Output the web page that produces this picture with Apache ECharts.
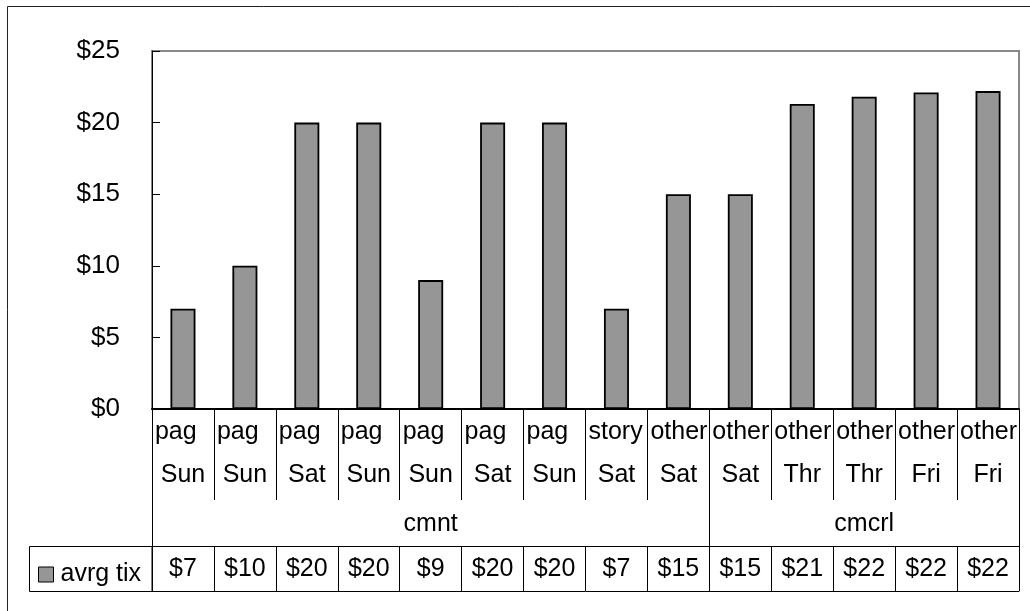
<!DOCTYPE html>
<html>
<head>
<meta charset="utf-8">
<script src="https://cdn.jsdelivr.net/npm/echarts@6/dist/echarts.min.js"></script>
<style>
html,body{margin:0;padding:0;background:#fff;}
#chart{width:1030px;height:611px;}
</style>
</head>
<body>
<div id="chart"></div>
<script>
// ---- data ----
const kinds = ['pag','pag','pag','pag','pag','pag','pag','story','other','other','other','other','other','other'];
const days = ['Sun','Sun','Sat','Sun','Sun','Sat','Sun','Sat','Sat','Sat','Thr','Thr','Fri','Fri'];
const groups = ['cmnt','cmnt','cmnt','cmnt','cmnt','cmnt','cmnt','cmnt','cmnt','cmcrl','cmcrl','cmcrl','cmcrl','cmcrl'];
const avrgTix = [7,10,20,20,9,20,20,7,15,15,21.3,21.8,22.1,22.2];
const seriesName = 'avrg tix';
const yTicks = [0,5,10,15,20,25];

// ---- derived ----
const idx = kinds.map((k,i)=>String(i));
const groupStarts = new Set();
const groupMids = {};
(function(){
  let s = 0;
  for (let i = 1; i <= groups.length; i++) {
    if (i === groups.length || groups[i] !== groups[s]) {
      groupStarts.add(s);
      groupMids[Math.floor((s + i - 1) / 2)] = groups[s];
      s = i;
    }
  }
})();

const FONT = '"Liberation Sans", Arial, sans-serif';
const chart = echarts.init(document.getElementById('chart'), null, {renderer:'canvas'});

const baseCat = {
  type:'category', data: idx, position:'bottom', gridIndex:0,
  axisLine:{show:false}, axisTick:{show:false}, axisLabel:{show:false}, splitLine:{show:false}
};

chart.setOption({
  animation:false,
  backgroundColor:'#fff',
  textStyle:{fontFamily:FONT, color:'#000'},
  grid:{left:152, right:11, top:51, bottom:202, show:true, borderColor:'#888', borderWidth:2, backgroundColor:'transparent'},
  legend:{
    data:[seriesName], left:33, top:557, itemWidth:15, itemHeight:15, icon:'rect',
    textStyle:{fontSize:25, fontFamily:FONT, color:'#000', padding:[0,0,0,2]},
    itemStyle:{borderColor:'#000', borderWidth:1}
  },
  yAxis:{
    type:'value', min:yTicks[0], max:yTicks[yTicks.length-1], interval:5,
    axisLine:{show:true, lineStyle:{color:'#000', width:1}},
    axisTick:{show:true, inside:true, length:8, lineStyle:{color:'#000'}},
    splitLine:{show:false},
    axisLabel:{formatter:v=>'$'+v, fontSize:26, fontFamily:FONT, color:'#000', margin:32}
  },
  xAxis:[
    Object.assign({}, baseCat, {
      axisLine:{show:true, lineStyle:{color:'#000', width:2}},
      axisTick:{show:true, inside:false, length:91, interval:0, lineStyle:{color:'#000', width:1}},
      axisLabel:{show:true, interval:0, margin:2, hideOverlap:false,
        formatter:(v,i)=>'{a|'+kinds[i]+'}\n{b|'+days[i]+'}',
        rich:{
          a:{width:56, align:'left', fontSize:25, lineHeight:43, fontFamily:FONT, color:'#000'},
          b:{width:56, align:'center', fontSize:25, lineHeight:43, fontFamily:FONT, color:'#000'}
        }
      }
    }),
    Object.assign({}, baseCat, {
      axisTick:{show:true, inside:false, length:137, interval:(i)=>groupStarts.has(i), lineStyle:{color:'#000', width:1}},
      axisLabel:{show:true, interval:0, margin:100, hideOverlap:false, fontSize:25, lineHeight:30, fontFamily:FONT, color:'#000',
        formatter:(v,i)=>groupMids[i]||''}
    }),
    Object.assign({}, baseCat, {
      offset:137,
      axisLine:{show:true, lineStyle:{color:'#000', width:1}},
      axisTick:{show:true, inside:false, length:45, interval:0, lineStyle:{color:'#000', width:1}},
      axisLabel:{show:true, interval:0, margin:8, hideOverlap:false, fontSize:25, lineHeight:30, fontFamily:FONT, color:'#000',
        formatter:(v,i)=>'$'+Math.round(avrgTix[i])}
    }),
    Object.assign({}, baseCat, {
      offset:182,
      axisLine:{show:true, lineStyle:{color:'#000', width:1}}
    })
  ],
  series:[{
    name:seriesName, type:'bar', xAxisIndex:0, data:avrgTix, barWidth:25,
    itemStyle:{color:'#969696', borderColor:'#000', borderWidth:1.8}
  }],
  graphic:[
    {type:'rect', silent:true, z:-1, shape:{x:7.5, y:6.5, width:1040, height:620}, style:{fill:'none', stroke:'#222', lineWidth:1}},
    {type:'rect', silent:true, shape:{x:29.5, y:546.5, width:122.5, height:45}, style:{fill:'none', stroke:'#000', lineWidth:1}}
  ]
});
</script>
</body>
</html>
